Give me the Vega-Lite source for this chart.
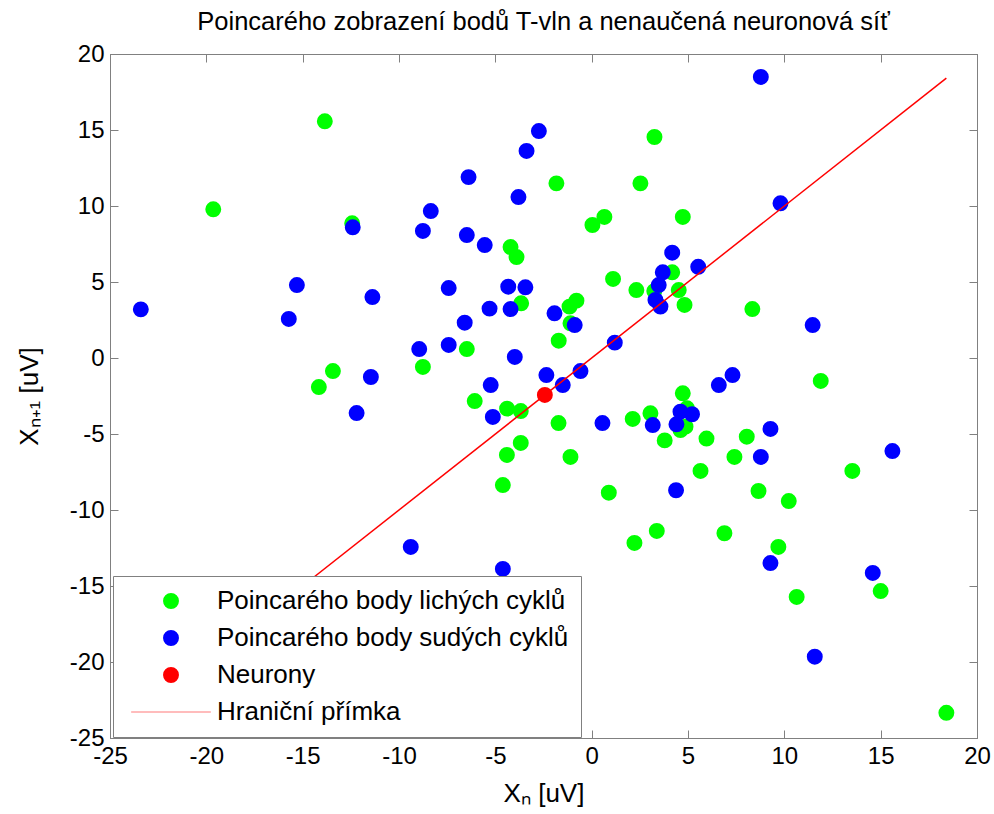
{
  "$schema": "https://vega.github.io/schema/vega-lite/v6.json",
  "width": 867,
  "height": 684,
  "autosize": {"type": "none"},
  "padding": {"left": 110, "top": 54, "right": 17, "bottom": 76},
  "background": "white",
  "title": {
    "text": "Poincarého zobrazení bodů T-vln a nenaučená neuronová síť",
    "font": "Liberation Sans",
    "fontSize": 25.5,
    "fontWeight": "normal",
    "color": "black",
    "anchor": "middle",
    "offset": 7
  },
  "config": {
    "view": {"stroke": "#808080", "strokeWidth": 1},
    "axis": {
      "grid": false,
      "labelFont": "Liberation Sans",
      "labelFontSize": 24,
      "labelColor": "black",
      "labelFlush": false,
      "labelOverlap": false,
      "labelExpr": "datum.value < 0 ? '-' + abs(datum.value) : '' + datum.value",
      "titleFont": "Liberation Sans",
      "titleFontSize": 26,
      "titleFontWeight": "normal",
      "titleColor": "black",
      "domainColor": "#808080",
      "tickColor": "#808080",
      "tickSize": -8,
      "labelPadding": 14
    }
  },
  "datasets": {
    "body": [
      {"xn": -13.85, "xn1": 15.57, "serie": "Poincarého body lichých cyklů"},
      {"xn": -19.64, "xn1": 9.78, "serie": "Poincarého body lichých cyklů"},
      {"xn": -12.43, "xn1": 8.86, "serie": "Poincarého body lichých cyklů"},
      {"xn": 3.26, "xn1": 14.54, "serie": "Poincarého body lichých cyklů"},
      {"xn": -1.83, "xn1": 11.49, "serie": "Poincarého body lichých cyklů"},
      {"xn": 2.53, "xn1": 11.49, "serie": "Poincarého body lichých cyklů"},
      {"xn": 0.66, "xn1": 9.28, "serie": "Poincarého body lichých cyklů"},
      {"xn": 0.04, "xn1": 8.75, "serie": "Poincarého body lichých cyklů"},
      {"xn": 4.73, "xn1": 9.28, "serie": "Poincarého body lichých cyklů"},
      {"xn": -4.21, "xn1": 7.3, "serie": "Poincarého body lichých cyklů"},
      {"xn": -3.9, "xn1": 6.64, "serie": "Poincarého body lichých cyklů"},
      {"xn": 4.18, "xn1": 5.64, "serie": "Poincarého body lichých cyklů"},
      {"xn": 1.11, "xn1": 5.2, "serie": "Poincarého body lichých cyklů"},
      {"xn": 2.32, "xn1": 4.47, "serie": "Poincarého body lichých cyklů"},
      {"xn": 3.25, "xn1": 4.4, "serie": "Poincarého body lichých cyklů"},
      {"xn": 4.52, "xn1": 4.47, "serie": "Poincarého body lichých cyklů"},
      {"xn": 4.82, "xn1": 3.49, "serie": "Poincarého body lichých cyklů"},
      {"xn": -3.66, "xn1": 3.6, "serie": "Poincarého body lichých cyklů"},
      {"xn": -1.15, "xn1": 3.38, "serie": "Poincarého body lichých cyklů"},
      {"xn": -0.79, "xn1": 3.77, "serie": "Poincarého body lichých cyklů"},
      {"xn": -1.1, "xn1": 2.28, "serie": "Poincarého body lichých cyklů"},
      {"xn": -1.71, "xn1": 1.14, "serie": "Poincarého body lichých cyklů"},
      {"xn": -6.48, "xn1": 0.59, "serie": "Poincarého body lichých cyklů"},
      {"xn": -8.76, "xn1": -0.59, "serie": "Poincarého body lichých cyklů"},
      {"xn": -13.43, "xn1": -0.86, "serie": "Poincarého body lichých cyklů"},
      {"xn": -14.16, "xn1": -1.91, "serie": "Poincarého body lichých cyklů"},
      {"xn": 8.34, "xn1": 3.22, "serie": "Poincarého body lichých cyklů"},
      {"xn": 11.89, "xn1": -1.51, "serie": "Poincarého body lichých cyklů"},
      {"xn": 4.73, "xn1": -2.32, "serie": "Poincarého body lichých cyklů"},
      {"xn": -6.07, "xn1": -2.83, "serie": "Poincarého body lichých cyklů"},
      {"xn": -4.39, "xn1": -3.33, "serie": "Poincarého body lichých cyklů"},
      {"xn": -3.68, "xn1": -3.49, "serie": "Poincarého body lichých cyklů"},
      {"xn": -1.72, "xn1": -4.28, "serie": "Poincarého body lichých cyklů"},
      {"xn": 2.13, "xn1": -4.01, "serie": "Poincarého body lichých cyklů"},
      {"xn": 3.05, "xn1": -3.64, "serie": "Poincarého body lichých cyklů"},
      {"xn": 3.79, "xn1": -5.42, "serie": "Poincarého body lichých cyklů"},
      {"xn": 4.95, "xn1": -3.31, "serie": "Poincarého body lichých cyklů"},
      {"xn": 4.87, "xn1": -4.52, "serie": "Poincarého body lichých cyklů"},
      {"xn": 4.61, "xn1": -4.74, "serie": "Poincarého body lichých cyklů"},
      {"xn": 5.96, "xn1": -5.3, "serie": "Poincarého body lichých cyklů"},
      {"xn": 8.05, "xn1": -5.18, "serie": "Poincarého body lichých cyklů"},
      {"xn": 7.41, "xn1": -6.51, "serie": "Poincarého body lichých cyklů"},
      {"xn": 5.65, "xn1": -7.43, "serie": "Poincarého body lichých cyklů"},
      {"xn": 13.53, "xn1": -7.43, "serie": "Poincarého body lichých cyklů"},
      {"xn": 8.66, "xn1": -8.75, "serie": "Poincarého body lichých cyklů"},
      {"xn": 10.23, "xn1": -9.41, "serie": "Poincarého body lichých cyklů"},
      {"xn": -3.68, "xn1": -5.59, "serie": "Poincarého body lichých cyklů"},
      {"xn": -4.4, "xn1": -6.38, "serie": "Poincarého body lichých cyklů"},
      {"xn": -1.1, "xn1": -6.51, "serie": "Poincarého body lichých cyklů"},
      {"xn": -4.61, "xn1": -8.36, "serie": "Poincarého body lichých cyklů"},
      {"xn": 0.89, "xn1": -8.86, "serie": "Poincarého body lichých cyklů"},
      {"xn": 2.22, "xn1": -12.17, "serie": "Poincarého body lichých cyklů"},
      {"xn": 3.38, "xn1": -11.38, "serie": "Poincarého body lichých cyklů"},
      {"xn": 6.89, "xn1": -11.53, "serie": "Poincarého body lichých cyklů"},
      {"xn": 9.69, "xn1": -12.43, "serie": "Poincarého body lichých cyklů"},
      {"xn": 15.0, "xn1": -15.33, "serie": "Poincarého body lichých cyklů"},
      {"xn": 10.64, "xn1": -15.72, "serie": "Poincarého body lichých cyklů"},
      {"xn": 18.41, "xn1": -23.34, "serie": "Poincarého body lichých cyklů"},
      {"xn": -12.4, "xn1": 8.6, "serie": "Poincarého body sudých cyklů"},
      {"xn": -15.3, "xn1": 4.8, "serie": "Poincarého body sudých cyklů"},
      {"xn": -11.38, "xn1": 4.01, "serie": "Poincarého body sudých cyklů"},
      {"xn": -23.4, "xn1": 3.2, "serie": "Poincarého body sudých cyklů"},
      {"xn": -15.72, "xn1": 2.57, "serie": "Poincarého body sudých cyklů"},
      {"xn": -11.46, "xn1": -1.25, "serie": "Poincarého body sudých cyklů"},
      {"xn": -12.2, "xn1": -3.62, "serie": "Poincarého body sudých cyklů"},
      {"xn": -2.74, "xn1": 14.93, "serie": "Poincarého body sudých cyklů"},
      {"xn": -3.38, "xn1": 13.62, "serie": "Poincarého body sudých cyklů"},
      {"xn": -6.39, "xn1": 11.9, "serie": "Poincarého body sudých cyklů"},
      {"xn": -3.8, "xn1": 10.59, "serie": "Poincarého body sudých cyklů"},
      {"xn": -8.35, "xn1": 9.67, "serie": "Poincarého body sudých cyklů"},
      {"xn": -8.76, "xn1": 8.36, "serie": "Poincarého body sudých cyklů"},
      {"xn": -6.48, "xn1": 8.09, "serie": "Poincarého body sudých cyklů"},
      {"xn": -5.55, "xn1": 7.43, "serie": "Poincarého body sudých cyklů"},
      {"xn": 8.78, "xn1": 18.49, "serie": "Poincarého body sudých cyklů"},
      {"xn": 9.8, "xn1": 10.18, "serie": "Poincarého body sudých cyklů"},
      {"xn": 4.18, "xn1": 6.93, "serie": "Poincarého body sudých cyklů"},
      {"xn": 5.53, "xn1": 6.0, "serie": "Poincarého body sudých cyklů"},
      {"xn": 3.69, "xn1": 5.64, "serie": "Poincarého body sudých cyklů"},
      {"xn": 3.48, "xn1": 4.8, "serie": "Poincarého body sudých cyklů"},
      {"xn": 3.31, "xn1": 3.82, "serie": "Poincarého body sudých cyklů"},
      {"xn": 3.57, "xn1": 3.38, "serie": "Poincarého body sudých cyklů"},
      {"xn": -7.42, "xn1": 4.6, "serie": "Poincarého body sudých cyklů"},
      {"xn": -4.33, "xn1": 4.69, "serie": "Poincarého body sudých cyklů"},
      {"xn": -3.44, "xn1": 4.65, "serie": "Poincarého body sudých cyklů"},
      {"xn": -4.21, "xn1": 3.22, "serie": "Poincarého body sudých cyklů"},
      {"xn": -5.3, "xn1": 3.25, "serie": "Poincarého body sudých cyklů"},
      {"xn": -6.59, "xn1": 2.32, "serie": "Poincarého body sudých cyklů"},
      {"xn": -1.93, "xn1": 2.94, "serie": "Poincarého body sudých cyklů"},
      {"xn": -0.88, "xn1": 2.17, "serie": "Poincarého body sudých cyklů"},
      {"xn": 1.2, "xn1": 1.01, "serie": "Poincarého body sudých cyklů"},
      {"xn": -8.95, "xn1": 0.59, "serie": "Poincarého body sudých cyklů"},
      {"xn": -7.42, "xn1": 0.86, "serie": "Poincarého body sudých cyklů"},
      {"xn": -3.99, "xn1": 0.07, "serie": "Poincarého body sudých cyklů"},
      {"xn": -2.35, "xn1": -1.12, "serie": "Poincarého body sudých cyklů"},
      {"xn": -0.58, "xn1": -0.86, "serie": "Poincarého body sudých cyklů"},
      {"xn": -1.5, "xn1": -1.78, "serie": "Poincarého body sudých cyklů"},
      {"xn": -5.24, "xn1": -1.78, "serie": "Poincarého body sudých cyklů"},
      {"xn": -5.13, "xn1": -3.88, "serie": "Poincarého body sudých cyklů"},
      {"xn": 0.56, "xn1": -4.28, "serie": "Poincarého body sudých cyklů"},
      {"xn": 3.17, "xn1": -4.41, "serie": "Poincarého body sudých cyklů"},
      {"xn": 4.61, "xn1": -3.53, "serie": "Poincarého body sudých cyklů"},
      {"xn": 5.21, "xn1": -3.7, "serie": "Poincarého body sudých cyklů"},
      {"xn": 4.4, "xn1": -4.36, "serie": "Poincarého body sudých cyklů"},
      {"xn": 4.38, "xn1": -8.7, "serie": "Poincarého body sudých cyklů"},
      {"xn": 11.47, "xn1": 2.17, "serie": "Poincarého body sudých cyklů"},
      {"xn": 7.31, "xn1": -1.12, "serie": "Poincarého body sudých cyklů"},
      {"xn": 6.6, "xn1": -1.78, "serie": "Poincarého body sudých cyklů"},
      {"xn": 9.28, "xn1": -4.67, "serie": "Poincarého body sudých cyklů"},
      {"xn": 8.78, "xn1": -6.51, "serie": "Poincarého body sudých cyklů"},
      {"xn": 15.61, "xn1": -6.12, "serie": "Poincarého body sudých cyklů"},
      {"xn": 9.28, "xn1": -13.49, "serie": "Poincarého body sudých cyklů"},
      {"xn": 14.59, "xn1": -14.14, "serie": "Poincarého body sudých cyklů"},
      {"xn": 11.58, "xn1": -19.65, "serie": "Poincarého body sudých cyklů"},
      {"xn": -9.39, "xn1": -12.43, "serie": "Poincarého body sudých cyklů"},
      {"xn": -4.61, "xn1": -13.88, "serie": "Poincarého body sudých cyklů"},
      {"xn": -2.43, "xn1": -2.43, "serie": "Neurony"}
    ],
    "primka": [
      {"xn": -23.4, "xn1": -23.4},
      {"xn": 18.41, "xn1": 18.41}
    ]
  },
  "resolve": {"axis": {"x": "independent", "y": "independent"}},
  "layer": [
    {
      "data": {"name": "body"},
      "mark": {"type": "point", "filled": true, "opacity": 1, "size": 254, "strokeWidth": 0},
      "encoding": {
        "x": {
          "field": "xn", "type": "quantitative",
          "scale": {"domain": [-25, 20], "nice": false, "zero": false},
          "axis": {"orient": "bottom", "values": [-25, -20, -15, -10, -5, 0, 5, 10, 15, 20], "title": "Xₙ [uV]", "titlePadding": 12}
        },
        "y": {
          "field": "xn1", "type": "quantitative",
          "scale": {"domain": [-25, 20], "nice": false, "zero": false},
          "axis": {"orient": "left", "values": [-25, -20, -15, -10, -5, 0, 5, 10, 15, 20], "title": "Xₙ₊₁ [uV]", "titlePadding": 27}
        },
        "color": {
          "field": "serie", "type": "nominal",
          "scale": {
            "domain": ["Poincarého body lichých cyklů", "Poincarého body sudých cyklů", "Neurony", "Hraniční přímka"],
            "range": ["#00ff00", "#0000ff", "#ff0000", "#ff7a7a"]
          },
          "legend": {
            "title": null, "orient": "none", "legendX": 3, "legendY": 522, "direction": "vertical",
            "symbolSize": 254, "symbolStrokeWidth": 0, "clipHeight": 26, "rowPadding": 11, "padding": 12,
            "symbolOffset": 33, "labelOffset": 33, "labelFont": "Liberation Sans", "labelFontSize": 26,
            "labelColor": "black", "labelLimit": 0, "strokeColor": "#808080", "fillColor": "white"
          }
        },
        "shape": {
          "field": "serie", "type": "nominal",
          "scale": {
            "domain": ["Poincarého body lichých cyklů", "Poincarého body sudých cyklů", "Neurony", "Hraniční přímka"],
            "range": ["circle", "circle", "circle", "M-5,-0.07H5V0.07H-5Z"]
          },
          "legend": {
            "title": null, "orient": "none", "legendX": 3, "legendY": 522, "direction": "vertical",
            "symbolSize": 254, "symbolStrokeWidth": 0, "clipHeight": 26, "rowPadding": 11, "padding": 12,
            "symbolOffset": 33, "labelOffset": 33, "labelFont": "Liberation Sans", "labelFontSize": 26,
            "labelColor": "black", "labelLimit": 0, "strokeColor": "#808080", "fillColor": "white"
          }
        }
      }
    },
    {
      "data": {"name": "primka"},
      "mark": {"type": "line", "color": "#ff0000", "strokeWidth": 1.5},
      "encoding": {
        "x": {
          "field": "xn", "type": "quantitative",
          "axis": {"orient": "top", "values": [-25, -20, -15, -10, -5, 0, 5, 10, 15, 20], "labels": false, "title": null}
        },
        "y": {
          "field": "xn1", "type": "quantitative",
          "axis": {"orient": "right", "values": [-25, -20, -15, -10, -5, 0, 5, 10, 15, 20], "labels": false, "title": null}
        }
      }
    }
  ]
}
